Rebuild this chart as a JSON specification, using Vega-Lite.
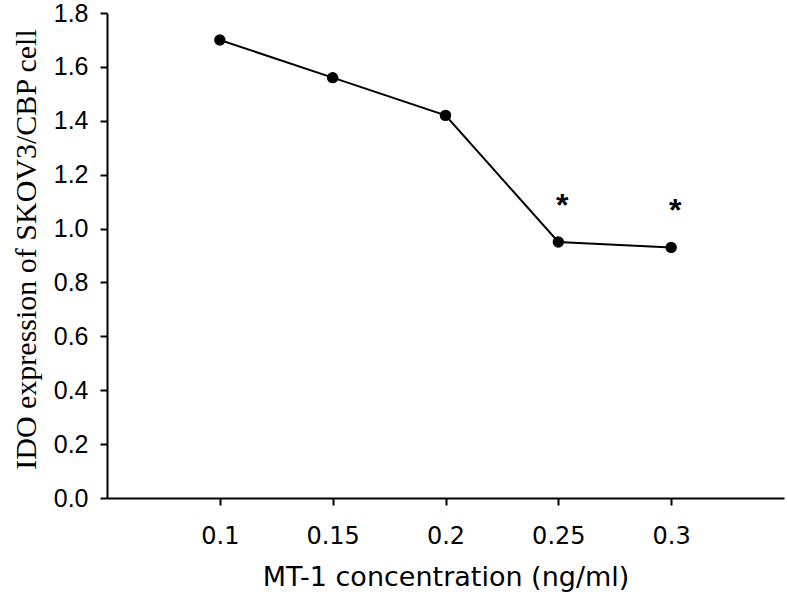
{
  "$schema": "https://vega.github.io/schema/vega-lite/v6.json",
  "autosize": "none",
  "width": 677,
  "height": 485,
  "padding": {"left": 107, "top": 13, "right": 3, "bottom": 99},
  "background": "white",
  "config": {"view": {"stroke": null}},
  "data": {
    "values": [
      {"conc": 0.10, "ido": 1.70, "sig": ""},
      {"conc": 0.15, "ido": 1.56, "sig": ""},
      {"conc": 0.20, "ido": 1.42, "sig": ""},
      {"conc": 0.25, "ido": 0.95, "sig": "*"},
      {"conc": 0.30, "ido": 0.93, "sig": "*"}
    ]
  },
  "encoding": {
    "x": {
      "field": "conc",
      "type": "quantitative",
      "scale": {"domain": [0.05, 0.35], "nice": false, "zero": false},
      "axis": {
        "title": "MT-1 concentration (ng/ml)",
        "values": [0.1, 0.15, 0.2, 0.25, 0.3],
        "format": ".2~f",
        "grid": false,
        "domainColor": "black",
        "domainWidth": 2,
        "tickColor": "black",
        "tickWidth": 2,
        "tickSize": 7,
        "labelFont": "DejaVu Sans",
        "labelFontSize": 24,
        "labelColor": "black",
        "labelBaseline": "alphabetic",
        "labelPadding": 38,
        "labelFlush": false,
        "titleFont": "DejaVu Sans",
        "titleFontSize": 27,
        "titleFontWeight": "normal",
        "titleColor": "black",
        "titleBaseline": "alphabetic",
        "titleY": 87
      }
    },
    "y": {
      "field": "ido",
      "type": "quantitative",
      "scale": {"domain": [0, 1.8], "nice": false},
      "axis": {
        "title": "IDO expression of SKOV3/CBP cell",
        "values": [0, 0.2, 0.4, 0.6, 0.8, 1.0, 1.2, 1.4, 1.6, 1.8],
        "format": ".1f",
        "grid": false,
        "domainColor": "black",
        "domainWidth": 2,
        "tickColor": "black",
        "tickWidth": 2,
        "tickSize": 7,
        "labelFont": "Liberation Sans",
        "labelFontSize": 25,
        "labelColor": "black",
        "labelPadding": 12,
        "labelFlush": false,
        "titleFont": "Liberation Serif",
        "titleFontSize": 30,
        "titleFontWeight": "normal",
        "titleColor": "black",
        "titleAngle": -90,
        "titleAlign": "center",
        "titleBaseline": "alphabetic",
        "titleX": -72,
        "titleY": 236
      }
    }
  },
  "layer": [
    {"mark": {"type": "line", "color": "black", "strokeWidth": 2}},
    {"mark": {"type": "point", "filled": true, "color": "black", "size": 130, "opacity": 1}},
    {
      "mark": {"type": "text", "font": "Liberation Sans", "fontWeight": "bold", "fontSize": 32, "color": "black", "baseline": "alphabetic", "dy": -26, "dx": 4},
      "encoding": {"text": {"field": "sig"}}
    }
  ]
}
